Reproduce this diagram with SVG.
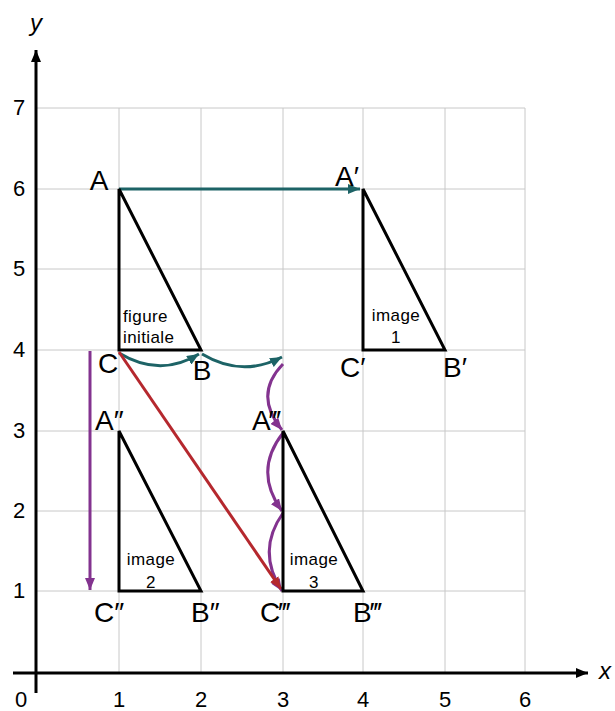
<svg xmlns="http://www.w3.org/2000/svg" width="615" height="711" viewBox="0 0 615 711">
<defs>
<style>
.grid{stroke:#c8c8c8;stroke-width:1;fill:none}
.axis{stroke:#000;stroke-width:3;fill:none}
.tri{stroke:#000;stroke-width:3;fill:none;stroke-linejoin:miter}
.t{font-family:"Liberation Sans",Arial,sans-serif;fill:#000}
.tick{font-size:22px}
.pt{font-size:28px}
.in{font-size:17px;letter-spacing:0.4px}
.teal{stroke:#1d6366;stroke-width:3;fill:none}
.purple{stroke:#83338f;stroke-width:3;fill:none}
.red{stroke:#b5282e;stroke-width:3;fill:none}
</style>
<marker id="mk" viewBox="0 0 12 10" refX="12" refY="5" markerWidth="12" markerHeight="10" markerUnits="userSpaceOnUse" orient="auto"><path d="M0,0L12,5L0,10Z" fill="#000"/></marker>
<marker id="mteal" viewBox="0 0 12 10" refX="12" refY="5" markerWidth="12" markerHeight="10" markerUnits="userSpaceOnUse" orient="auto"><path d="M0,0L12,5L0,10Z" fill="#1d6366"/></marker>
<marker id="mpur" viewBox="0 0 12 10" refX="12" refY="5" markerWidth="12" markerHeight="10" markerUnits="userSpaceOnUse" orient="auto"><path d="M0,0L12,5L0,10Z" fill="#83338f"/></marker>
<marker id="mred" viewBox="0 0 12 10" refX="12" refY="5" markerWidth="12" markerHeight="10" markerUnits="userSpaceOnUse" orient="auto"><path d="M0,0L12,5L0,10Z" fill="#b5282e"/></marker>
</defs>
<rect width="615" height="711" fill="#fff"/>
<g id="grid" class="grid">
<path d="M119,108V673M201,108V673M283,108V673M363,108V673M445,108V673M525,108V673"/>
<path d="M36,108H525M36,189H525M36,269H525M36,350H525M36,431H525M36,511H525M36,591H525"/>
</g>
<g id="axes">
<path class="axis" d="M36,693V50" marker-end="url(#mk)"/>
<path class="axis" d="M13,673H588" marker-end="url(#mk)"/>
<text class="t" x="36" y="31" font-size="24" font-style="italic" text-anchor="middle">y</text>
<text class="t" x="605" y="679" font-size="24" font-style="italic" text-anchor="middle">x</text>
<g class="t tick" text-anchor="middle">
<text x="19" y="115">7</text>
<text x="19" y="196">6</text>
<text x="19" y="276">5</text>
<text x="19" y="357">4</text>
<text x="19" y="438">3</text>
<text x="19" y="518">2</text>
<text x="19" y="598">1</text>
<text x="21" y="707">0</text>
<text x="119" y="707">1</text>
<text x="201" y="707">2</text>
<text x="283" y="707">3</text>
<text x="363" y="707">4</text>
<text x="445" y="707">5</text>
<text x="525" y="707">6</text>
</g>
</g>
<g id="connectors">
<path class="teal" d="M119,189H360" marker-end="url(#mteal)"/>
<path class="teal" d="M119,353Q160,378 199,354" marker-end="url(#mteal)"/>
<path class="teal" d="M202,354Q242,378 282,357" marker-end="url(#mteal)"/>
<path class="purple" d="M90,351V590" marker-end="url(#mpur)"/>
<path class="purple" d="M283,364Q253,395 282,430" marker-end="url(#mpur)"/>
<path class="purple" d="M283,433Q253,471 282,511" marker-end="url(#mpur)"/>
<path class="purple" d="M283,513Q256,551 282,591" marker-end="url(#mpur)"/>
<path class="red" d="M119,352L281,589" marker-end="url(#mred)"/>
</g>
<g id="ABC">
<path class="tri" d="M119,189L201,350H119Z"/>
<text class="t pt" x="99" y="190" text-anchor="middle">A</text>
<text class="t pt" x="108" y="373" text-anchor="middle">C</text>
<text class="t pt" x="202" y="380" text-anchor="middle">B</text>
<text class="t in" x="123" y="322">figure</text>
<text class="t in" x="123" y="343">initiale</text>
</g>
<g id="image1">
<path class="tri" d="M363,189L445,350H363Z"/>
<text class="t pt" x="335" y="186">A′</text>
<text class="t pt" x="340" y="377">C′</text>
<text class="t pt" x="443" y="377">B′</text>
<text class="t in" x="396" y="321" text-anchor="middle">image</text>
<text class="t in" x="396" y="343" text-anchor="middle">1</text>
</g>
<g id="image2">
<path class="tri" d="M119,431L201,591H119Z"/>
<text class="t pt" x="95" y="430">A″</text>
<text class="t pt" x="94" y="622">C″</text>
<text class="t pt" x="191" y="622">B″</text>
<text class="t in" x="151" y="565" text-anchor="middle">image</text>
<text class="t in" x="151" y="588" text-anchor="middle">2</text>
</g>
<g id="image3">
<path class="tri" d="M283,431L363,591H283Z"/>
<text class="t pt" x="252" y="430">A‴</text>
<text class="t pt" x="260" y="622">C‴</text>
<text class="t pt" x="353" y="622">B‴</text>
<text class="t in" x="314" y="565" text-anchor="middle">image</text>
<text class="t in" x="314" y="588" text-anchor="middle">3</text>
</g>
</svg>
